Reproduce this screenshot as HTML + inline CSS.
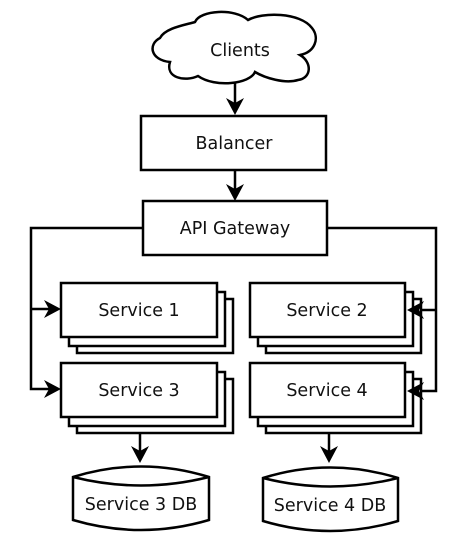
<!DOCTYPE html>
<html><head><meta charset="utf-8"><style>
html,body{margin:0;padding:0;background:#fff;}
svg{display:block;}
text{font-family:"DejaVu Sans","Liberation Sans",sans-serif;font-size:17.5px;fill:#111;text-anchor:middle;}
</style></head><body>
<svg width="456" height="540" viewBox="0 0 456 540" xmlns="http://www.w3.org/2000/svg">
<g fill="none" stroke="#000" stroke-width="2.5" stroke-linejoin="miter">
<path d="M195,22 C200,10 235,8 248,20 C262,12 300,12 312,28 C320,38 315,52 300,55 C312,62 312,78 298,80 C285,84 265,78 255,72 C250,84 215,88 198,76 C185,82 165,78 170,62 C150,60 148,44 160,38 C165,28 185,25 195,22 Z"/>
<rect x="141" y="116" width="185" height="54"/>
<rect x="143" y="201" width="184" height="54"/>
<path d="M235,83 V105"/>
<path d="M235,170 V190"/>
<path d="M143,228 H31 V389 H50"/>
<path d="M31,309 H50"/>
<path d="M327,228 H436 V391 H418"/>
<path d="M436,310 H418"/>
<path d="M140,417 V452"/>
<path d="M329,417 V452"/>
<g fill="#fff">
<rect x="77" y="299" width="156" height="54"/><rect x="69" y="292" width="156" height="54"/><rect x="61" y="283" width="156" height="54"/>
<rect x="266" y="299" width="155" height="54"/><rect x="258" y="292" width="155" height="54"/><rect x="250" y="283" width="155" height="54"/>
<rect x="77" y="379" width="156" height="54"/><rect x="69" y="372" width="156" height="54"/><rect x="61" y="363" width="156" height="54"/>
<rect x="266" y="379" width="155" height="54"/><rect x="258" y="372" width="155" height="54"/><rect x="250" y="363" width="155" height="54"/>
</g>
<path d="M73,477 Q141,456 209,477 V520 Q141,540 73,520 Z M73,477 Q141,494 209,477"/>
<path d="M263,478 Q330,457 398,478 V521 Q330,541 263,521 Z M263,478 Q330,495 398,478"/>
</g>
<g fill="#000">
<path d="M226,98 L235,115 L244,98 L235,103 Z"/>
<path d="M226,184 L235,201 L244,184 L235,189 Z"/>
<path d="M44,300 L61,309 L44,318 L49,309 Z"/>
<path d="M44,380 L61,389 L44,398 L49,389 Z"/>
<path d="M424,301 L407,310 L424,319 L419,310 Z"/>
<path d="M424,382 L407,391 L424,400 L419,391 Z"/>
<path d="M131,446 L140,463 L149,446 L140,451 Z"/>
<path d="M320,446 L329,463 L338,446 L329,451 Z"/>
</g>
<text x="240" y="56">Clients</text>
<text x="234" y="149">Balancer</text>
<text x="235" y="234">API Gateway</text>
<text x="139" y="316">Service 1</text>
<text x="327" y="316">Service 2</text>
<text x="139" y="396">Service 3</text>
<text x="327" y="396">Service 4</text>
<text x="141" y="510">Service 3 DB</text>
<text x="330" y="511">Service 4 DB</text>
</svg>
</body></html>
